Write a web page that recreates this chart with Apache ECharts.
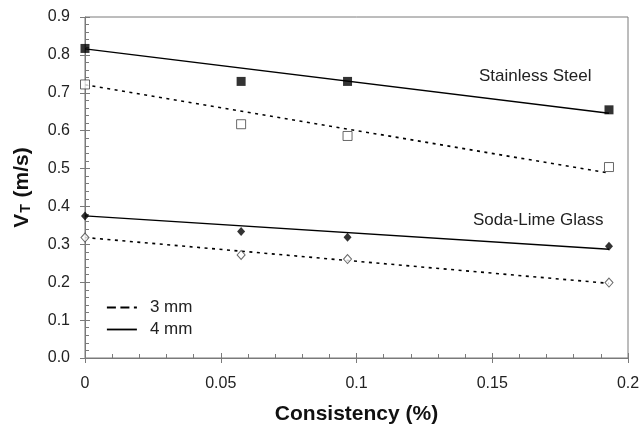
<!DOCTYPE html>
<html>
<head>
<meta charset="utf-8">
<script src="https://cdn.jsdelivr.net/npm/echarts@6/dist/echarts.min.js"></script>
<style>
  html, body { margin: 0; padding: 0; background: #fff; }
  #chart { width: 644px; height: 427px; }
</style>
</head>
<body>
<div id="chart"></div>
<script>
// Consistency (%) at which each measurement was taken
var consistency = [0, 0.0575, 0.0967, 0.193];

// Measured terminal velocities (m/s)
var stainless4mm = [0.817, 0.730, 0.730, 0.655];
var stainless3mm = [0.722, 0.617, 0.586, 0.504];
var sodaLime4mm  = [0.375, 0.334, 0.319, 0.295];
var sodaLime3mm  = [0.318, 0.272, 0.261, 0.199];

// Linear trend lines: value at the first and last consistency
var fitX          = [0, 0.193];
var stainless4Fit = [0.816, 0.646];
var stainless3Fit = [0.721, 0.488];
var sodaLime4Fit  = [0.375, 0.287];
var sodaLime3Fit  = [0.318, 0.197];

var yTickLabels = ['0.0', '0.1', '0.2', '0.3', '0.4', '0.5', '0.6', '0.7', '0.8', '0.9'];
var xTickLabels = ['0', '0.05', '0.1', '0.15', '0.2'];

var FONT = 'Liberation Sans, Arial, Helvetica, sans-serif';
var AXIS_COLOR = '#7a7a7a';

function pairs(xs, ys) {
  return xs.map(function (x, i) { return [x, ys[i]]; });
}

function markers(name, data, symbol, size, filled) {
  return {
    type: 'scatter',
    name: name,
    data: pairs(consistency, data),
    symbol: symbol,
    symbolSize: size,
    itemStyle: filled
      ? { color: '#000' }
      : { color: '#fff', borderColor: '#444', borderWidth: 1 },
    z: 5,
    silent: true
  };
}

function trend(name, data, dashed) {
  return {
    type: 'line',
    name: name,
    data: pairs(fitX, data),
    symbol: 'none',
    itemStyle: { color: '#000' },
    lineStyle: {
      color: '#000',
      width: dashed ? 1.6 : 1.4,
      type: dashed ? [3, 4.5] : 'solid'
    },
    z: 3,
    silent: true
  };
}

var chart = echarts.init(document.getElementById('chart'));

chart.setOption({
  animation: false,
  backgroundColor: '#fff',
  grid: {
    left: 85, right: 16, top: 17, bottom: 69,
    outerBoundsMode: 'none',
    containLabel: false,
    show: true,
    borderColor: AXIS_COLOR,
    borderWidth: 1
  },
  legend: {
    orient: 'vertical',
    left: 106,
    top: 299,
    padding: 0,
    itemWidth: 30,
    itemHeight: 14,
    itemGap: 5,
    textStyle: { fontFamily: FONT, fontSize: 17, color: '#222', padding: [0, 0, 0, 8] },
    data: [
      { name: '3 mm', itemStyle: { opacity: 0 }, lineStyle: { type: [9, 4.5], width: 1.8, color: '#000' } },
      { name: '4 mm', itemStyle: { opacity: 0 }, lineStyle: { type: 'solid', width: 1.8, color: '#000' } }
    ]
  },
  xAxis: [
    {
      type: 'value',
      min: 0, max: 0.2, interval: 0.05,
      position: 'bottom',
      name: 'Consistency (%)',
      nameLocation: 'middle',
      nameGap: 46,
      nameTextStyle: { fontFamily: FONT, fontSize: 21, fontWeight: 'bold', color: '#111' },
      axisLine: { lineStyle: { color: AXIS_COLOR, width: 1 } },
      axisTick: { show: true, inside: false, length: 5, lineStyle: { color: AXIS_COLOR } },
      axisLabel: {
        fontFamily: FONT, fontSize: 16, color: '#222', margin: 18,
        formatter: function (v) { return xTickLabels[Math.round(v / 0.05)]; }
      },
      splitLine: { show: false }
    },
    {
      // inner ticks: majors cross the axis, minors sit inside
      type: 'value',
      min: 0, max: 0.2, interval: 0.05,
      position: 'bottom',
      axisLine: { show: false },
      axisTick: { show: true, inside: true, length: 5, lineStyle: { color: AXIS_COLOR } },
      minorTick: { show: true, splitNumber: 5, length: 4, lineStyle: { color: AXIS_COLOR } },
      axisLabel: { show: false },
      splitLine: { show: false }
    }
  ],
  yAxis: [
    {
      type: 'value',
      min: 0, max: 0.9, interval: 0.1,
      position: 'left',
      name: '{v|V}{t|T}{v| (m/s)}',
      nameLocation: 'middle',
      nameRotate: 90,
      nameGap: 52,
      nameTextStyle: {
        rich: {
          v: { fontFamily: FONT, fontSize: 21, fontWeight: 'bold', color: '#111', verticalAlign: 'bottom' },
          t: { fontFamily: FONT, fontSize: 14, fontWeight: 'bold', color: '#111', verticalAlign: 'bottom', padding: [0, 1, 0, 1] }
        }
      },
      axisLine: { show: true, lineStyle: { color: AXIS_COLOR, width: 1 } },
      axisTick: { show: true, inside: false, length: 5, lineStyle: { color: AXIS_COLOR } },
      axisLabel: {
        fontFamily: FONT, fontSize: 16, color: '#222', margin: 15,
        formatter: function (v) { return yTickLabels[Math.round(v / 0.1)]; }
      },
      splitLine: { show: false }
    },
    {
      type: 'value',
      min: 0, max: 0.9, interval: 0.1,
      position: 'left',
      axisLine: { show: false },
      axisTick: { show: true, inside: true, length: 5, lineStyle: { color: AXIS_COLOR } },
      minorTick: { show: true, splitNumber: 5, length: 4, lineStyle: { color: AXIS_COLOR } },
      axisLabel: { show: false },
      splitLine: { show: false }
    }
  ],
  graphic: [
    {
      type: 'text', left: 479, top: 68,
      style: { text: 'Stainless Steel', fontFamily: FONT, fontSize: 17, fill: '#222' }
    },
    {
      type: 'text', left: 473, top: 212,
      style: { text: 'Soda-Lime Glass', fontFamily: FONT, fontSize: 17, fill: '#222' }
    }
  ],
  series: [
    trend('4 mm', stainless4Fit, false),
    trend('3 mm', stainless3Fit, true),
    trend('4 mm', sodaLime4Fit, false),
    trend('3 mm', sodaLime3Fit, true),
    markers('Stainless Steel 4 mm', stainless4mm, 'rect', 9, true),
    markers('Stainless Steel 3 mm', stainless3mm, 'rect', 9, false),
    markers('Soda-Lime Glass 4 mm', sodaLime4mm, 'diamond', [8, 9], true),
    markers('Soda-Lime Glass 3 mm', sodaLime3mm, 'diamond', [8, 9], false)
  ]
});
</script>
</body>
</html>
